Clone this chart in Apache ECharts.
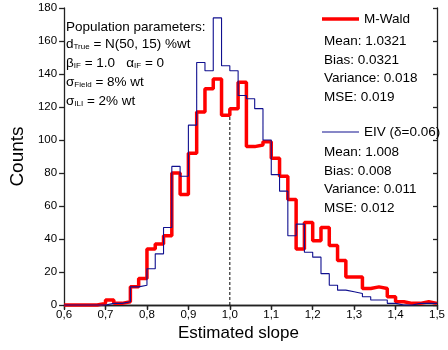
<!DOCTYPE html>
<html>
<head>
<meta charset="utf-8">
<script src="https://cdn.jsdelivr.net/npm/echarts@6/dist/echarts.min.js"></script>
<style>html,body{margin:0;padding:0;background:#fff;}#c{width:448px;height:350px;}</style>
</head>
<body>
<div id="c"></div>
<script>
// Bin edges (estimated slope), 0.02 wide
var binEdges = [0.60,0.62,0.64,0.66,0.68,0.70,0.72,0.74,0.76,0.78,0.80,0.82,0.84,0.86,0.88,0.90,0.92,0.94,0.96,0.98,1.00,1.02,1.04,1.06,1.08,1.10,1.12,1.14,1.16,1.18,1.20,1.22,1.24,1.26,1.28,1.30,1.32,1.34,1.36,1.38,1.40,1.42,1.44,1.46,1.48,1.50];
// Counts per bin
var mWaldCounts = [0,0,0,0,1,3,1,2,11,16,34,37,42,80,67,92,117,131,137,115,119,135,96,97,99,89,78,64,34,50,39,47,36,27,17,17,10,11,10,5,2,1,1,2,1];
var eivCounts   = [0,0,0,0,0,1,1,2,11,12,22,31,47,84,78,109,147,142,174,145,142,127,125,119,100,79,69,42,49,32,29,19,12,9,8,7,5,3,3,1,0,0,1,1,1];
var xTicks = [0.6,0.7,0.8,0.9,1.0,1.1,1.2,1.3,1.4,1.5];
var trueSlopeLine = [1.0, 115];
var mWaldStats = ['Mean: 1.0321','Bias: 0.0321','Variance: 0.018','MSE: 0.019'];
var eivStats = ['Mean: 1.008','Bias: 0.008','Variance: 0.011','MSE: 0.012'];

function stepData(counts){
  var d = counts.map(function(v,i){ return [binEdges[i], v]; });
  d.push([binEdges[counts.length], counts[counts.length-1]]);
  return d;
}
var FONT = 'Liberation Sans, Arial, sans-serif';
var chart = echarts.init(document.getElementById('c'));
var graphics = [];
function txt(x, y, text){
  graphics.push({type:'text', left:x, top:y, style:{text:text, font:'13.5px ' + FONT, fill:'#000'}});
}
var richSub = {
  m:{fontSize:13.5, fontFamily:FONT, lineHeight:16, verticalAlign:'bottom'},
  s:{fontSize:8, fontFamily:FONT, lineHeight:11, verticalAlign:'bottom'}
};
txt(66, 20, 'Population parameters:');
graphics.push({type:'text', left:66, top:37, style:{text:'{m|d}{s|True}{m| = N(50, 15) %wt}', rich:richSub}});
graphics.push({type:'text', left:66, top:56, style:{text:'{m|β}{s|IF}{m| = 1.0   α}{s|IF}{m| = 0}', rich:richSub}});
graphics.push({type:'text', left:66, top:75, style:{text:'{m|σ}{s|Field}{m| = 8% wt}', rich:richSub}});
graphics.push({type:'text', left:66, top:94, style:{text:'{m|σ}{s|ILI}{m| = 2% wt}', rich:richSub}});
var ys1 = [34, 53, 71, 90];
mWaldStats.forEach(function(s,i){ txt(324, ys1[i], s); });
var ys2 = [145, 164, 182, 201];
eivStats.forEach(function(s,i){ txt(324, ys2[i], s); });
graphics.push({type:'text', left:178, top:325, style:{text:'Estimated slope', font:'17px ' + FONT, fill:'#000'}});

var axisLine = {show:true, lineStyle:{color:'#222', width:1.3}};
var option = {
  animation:false,
  backgroundColor:'#fff',
  textStyle:{fontFamily:FONT},
  grid:{left:60.5, right:4.5, top:8, bottom:45, containLabel:false},
  legend:[
    {data:[{name:'M-Wald', icon:'rect'}], left:322, top:12, padding:0, itemWidth:37, itemHeight:3.5, itemGap:0,
     textStyle:{fontSize:13.5, fontFamily:FONT, color:'#000'}},
    {data:[{name:'EIV (δ=0.06)', icon:'rect'}], left:322, top:125, padding:0, itemWidth:37, itemHeight:1.2, itemGap:0,
     textStyle:{fontSize:13.5, fontFamily:FONT, color:'#000'}}
  ],
  xAxis:[
    {type:'value', min:0.6, max:1.5, interval:0.1, position:'bottom',
     axisLine:axisLine, splitLine:{show:false},
     axisTick:{show:true, inside:false, length:5, lineStyle:{color:'#222', width:1.3}},
     axisLabel:{fontSize:11.5, color:'#000', margin:4, fontFamily:FONT,
       formatter:function(v){ return v.toFixed(1).replace('.', ','); }}},
    {type:'value', min:0.6, max:1.5, interval:0.1, position:'top',
     axisLine:axisLine, splitLine:{show:false},
     axisTick:{show:true, inside:true, length:4, lineStyle:{color:'#222', width:1.3}},
     axisLabel:{show:false}}
  ],
  yAxis:[
    {type:'value', min:0, max:180, interval:20, position:'left',
     name:'Counts', nameLocation:'middle', nameGap:33, nameRotate:90,
     nameTextStyle:{fontSize:19, color:'#000', fontFamily:FONT},
     axisLine:axisLine, splitLine:{show:false},
     axisTick:{show:true, inside:false, length:5, lineStyle:{color:'#222', width:1.3}},
     axisLabel:{fontSize:11.5, color:'#000', margin:7, fontFamily:FONT}},
    {type:'value', min:0, max:180, interval:20, position:'right',
     axisLine:axisLine, splitLine:{show:false},
     axisTick:{show:true, inside:true, length:4, lineStyle:{color:'#222', width:1.3}},
     axisLabel:{show:false}}
  ],
  series:[
    {name:'M-Wald', type:'line', step:'end', data:stepData(mWaldCounts), symbol:'none', clip:false,
     lineStyle:{color:'#ff0000', width:3.5}, itemStyle:{color:'#ff0000'}, z:2},
    {name:'EIV (δ=0.06)', type:'line', step:'end', data:stepData(eivCounts), symbol:'none', clip:false,
     lineStyle:{color:'#10108f', width:1.1}, itemStyle:{color:'#10108f'}, z:3},
    {name:'dash', type:'line', data:[[trueSlopeLine[0],0],[trueSlopeLine[0],trueSlopeLine[1]]], symbol:'none',
     lineStyle:{color:'#000', width:1, type:[3,2]}, z:4, silent:true}
  ],
  graphic:graphics
};
chart.setOption(option);
</script>
</body>
</html>
